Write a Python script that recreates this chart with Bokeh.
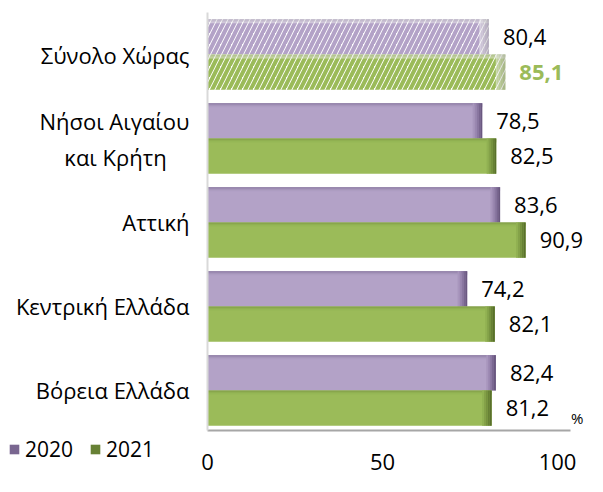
from bokeh.plotting import figure
from bokeh.models import FixedTicker, Legend, LegendItem, Label, ColumnDataSource, Range1d
from bokeh.embed import file_html
from bokeh.resources import INLINE
from bokeh.core.properties import value

# ---- data ----
categories = ["Βόρεια Ελλάδα", "Κεντρική Ελλάδα", "Αττική",
              "Νήσοι Αιγαίου\nκαι Κρήτη\u00a0\u00a0\u00a0\u00a0", "Σύνολο Χώρας"]
years = ["2020", "2021"]
v2020 = [82.4, 74.2, 83.6, 78.5, 80.4]
v2021 = [81.2, 82.1, 90.9, 82.5, 85.1]
x_ticks = [0, 50, 100]
total_index = 4  # "Σύνολο Χώρας" drawn hatched

# ---- style ----
FONT = "Open Sans"
PURPLE = "#b3a2c7"
GREEN = "#9bbb59"
PURPLE_SHADES = ["#a896bd", "#9a87b0", "#8a77a1", "#796690", "#6a5880"]
GREEN_SHADES = ["#91b152", "#84a249", "#76923f", "#678135", "#59702c"]
GREY_SHADES = ["#f2f2f2", "#e4e4e4", "#d4d4d4", "#c4c4c4", "#b4b4b4"]
PURPLE_TOP = ["#8a7aa1", "#9786ae", "#a493b9", "#ac9cc1"]
GREEN_TOP = ["#7a9644", "#85a44b", "#8fb152", "#96b756"]
GREY_TOP = ["#c8c8c8", "#d8d8d8", "#e6e6e6", "#f0f0f0"]
BAR_H = 0.42
OFF = 0.21
AX_X = (0, 103.6)     # extent of the value axis line
AX_Y = (-0.48, 4.5)   # extent of the category axis line

fmt = lambda v: f"{v:.1f}".replace(".", ",")

W, H = 587, 476
p = figure(width=W, height=H, output_backend="svg", toolbar_location=None,
           x_range=Range1d(-59.14, 108.57), y_range=Range1d(-1.024, 4.643),
           min_border=0)
p.outline_line_color = None
p.grid.visible = False
p.background_fill_color = "white"
p.border_fill_color = "white"

idx = list(range(len(categories)))
normal = [i for i in idx if i != total_index]


def bars(vals, ys, color, shades, tops, hatch_color=None):
    src = ColumnDataSource(dict(y=ys, right=vals))
    if hatch_color is None:
        p.hbar(y="y", left=0, right="right", height=BAR_H, source=src,
               fill_color=color, line_color=None)
        edge_shades, top_shades, a = shades, tops, 1.0
    else:
        p.hbar(y="y", left=0, right="right", height=BAR_H, source=src,
               fill_color="white", line_color=None,
               hatch_pattern="/", hatch_color=hatch_color,
               hatch_scale=11, hatch_weight=4)
        edge_shades, top_shades, a = GREY_SHADES, GREY_TOP, 0.55
    # darker band along the top of each bar
    dh = 0.012
    for k, c in enumerate(top_shades):
        p.hbar(y=[y + BAR_H / 2 - dh * (k + 0.5) for y in ys], left=0, right=vals,
               height=dh, fill_color=c, line_color=None, fill_alpha=a)
    # shaded right end of each bar
    n = len(edge_shades)
    w = 0.55
    rs = []
    for k, c in enumerate(edge_shades):
        rs.append(p.hbar(y=ys, left=[v - (n - k) * w for v in vals],
                         right=[v - (n - k - 1) * w for v in vals],
                         height=BAR_H, fill_color=c, line_color=None, fill_alpha=a))
    return rs


y20 = [i + OFF for i in normal]
y21 = [i - OFF for i in normal]
r20 = bars([v2020[i] for i in normal], y20, PURPLE, PURPLE_SHADES, PURPLE_TOP)
r21 = bars([v2021[i] for i in normal], y21, GREEN, GREEN_SHADES, GREEN_TOP)
bars([v2020[total_index]], [total_index + OFF], PURPLE, PURPLE_SHADES, PURPLE_TOP, hatch_color=PURPLE)
bars([v2021[total_index]], [total_index - OFF], GREEN, GREEN_SHADES, GREEN_TOP, hatch_color=GREEN)

# value labels
VAL_FS = "22px"
XOFF = 14
lab20 = ColumnDataSource(dict(x=v2020, y=[i + OFF for i in idx], t=[fmt(v) for v in v2020]))
p.text(x="x", y="y", text="t", source=lab20, x_offset=XOFF, text_baseline="middle",
       text_align="left", text_font=value(FONT), text_font_size=VAL_FS, text_color="#000000")
lab21_norm = ColumnDataSource(dict(x=[v2021[i] for i in normal], y=[i - OFF for i in normal],
                                   t=[fmt(v2021[i]) for i in normal]))
p.text(x="x", y="y", text="t", source=lab21_norm, x_offset=XOFF, text_baseline="middle",
       text_align="left", text_font=value(FONT), text_font_size=VAL_FS, text_color="#000000")
p.text(x=[v2021[total_index]], y=[total_index - OFF], text=[fmt(v2021[total_index])],
       x_offset=XOFF, text_baseline="middle", text_align="left", text_font=value(FONT),
       text_font_size=VAL_FS, text_color=GREEN, text_font_style="bold")

# axes (placed inside the frame at fixed locations)
p.yaxis.fixed_location = 0
p.yaxis.bounds = AX_Y
p.yaxis.ticker = FixedTicker(ticks=idx)
p.yaxis.major_label_overrides = {i: c for i, c in zip(idx, categories)}
p.yaxis.major_tick_line_color = None
p.yaxis.minor_tick_line_color = None
p.yaxis.axis_line_color = "#d9d9d9"
p.yaxis.axis_line_width = 2
p.yaxis.major_label_text_font = FONT
p.yaxis.major_label_text_font_size = "22px"
p.yaxis.major_label_text_color = "#000000"
p.yaxis.major_label_standoff = 12

p.xaxis.fixed_location = AX_Y[0]
p.xaxis.bounds = AX_X
p.xaxis.ticker = FixedTicker(ticks=x_ticks)
p.xaxis.major_tick_line_color = None
p.xaxis.minor_tick_line_color = None
p.xaxis.axis_line_color = "#a6a6a6"
p.xaxis.axis_line_width = 2
p.xaxis.major_label_text_font = FONT
p.xaxis.major_label_text_font_size = "22px"
p.xaxis.major_label_text_color = "#000000"
p.xaxis.major_label_standoff = 17

p.add_layout(Label(x=AX_X[1], y=AX_Y[0], text="%", x_offset=1, y_offset=3,
                   text_font=FONT, text_font_size="15px", text_color="#000000",
                   text_baseline="bottom", text_align="left"))

legend = Legend(items=[LegendItem(label=years[0], renderers=[r20[3]]),
                       LegendItem(label=years[1], renderers=[r21[3]])],
                orientation="horizontal", location=(8, 13),
                label_text_font=FONT, label_text_font_size="21px",
                label_text_color="#000000",
                glyph_width=12, glyph_height=12, label_standoff=5, spacing=16,
                padding=0, margin=0, border_line_color=None,
                background_fill_alpha=0)
p.add_layout(legend, "center")

open("out.html", "w").write(file_html(p, INLINE))
